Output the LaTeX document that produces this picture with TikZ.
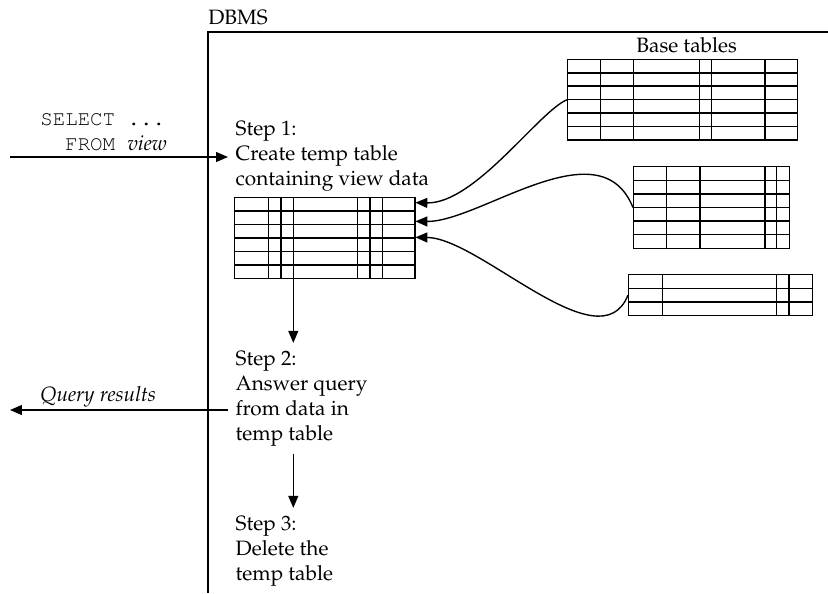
\documentclass[tikz,border=0pt]{standalone}
\usepackage[T1]{fontenc}
\usepackage{mathpazo}
\usepackage{courier}
\usepackage{tikz}
\usetikzlibrary{arrows.meta,positioning,calc,fit}

% name, left, top, right, bottom, rows, column lines
\newcommand{\dbtable}[7]{%
	\draw[tabline] (#2,#3) rectangle (#4,#5);
	\foreach \r in {1,...,#6}
	\draw[tabline] (#2,{#3+\r*(#5-#3)/#6}) -- (#4,{#3+\r*(#5-#3)/#6});
	\foreach \c in {#7}
	\draw[tabline] (\c,#3) -- (\c,#5);
	\node[fit={(#2,#3) (#4,#5)},inner sep=0pt] (#1) {};
}

\begin{document}
\begin{tikzpicture}[x=0.544pt,y=-0.544pt,font=\fontsize{11.3}{13.6}\selectfont,
		tabline/.style={line width=0.85pt},
		arr/.style={-{Triangle[length=6.5pt,width=5.4pt]},line width=0.75pt},
		stepbox/.style={align=left,inner sep=4pt,anchor=base west}]
	
	\useasboundingbox (0,0) rectangle (828,593);
	
	% DBMS frame
	\draw[line width=0.75pt] (828,32) -- (208,32) -- (208,593);
	\node[anchor=base west,inner sep=0pt] (dbms) at (208,25) {DBMS};
	
	% base tables
	\node[anchor=base,inner sep=0pt] (basetitle) at (686.7,53) {Base tables};
	\dbtable{base1}{567.7}{59.3}{797.7}{140}{6}{600.7,633.3,699.3,711.7,765}
	\dbtable{base2}{633.3}{166.7}{789.3}{248.3}{6}{666.7,700,765,776.7}
	\dbtable{base3}{628.3}{274.7}{812.7}{315.7}{3}{662.3,776.7,789}
	
	% temp table
	\dbtable{temp}{234.3}{197.3}{415}{278.3}{6}{268.7,281,293.3,357.7,370,382.3}
	
	% steps (base = last line)
	\node[stepbox] (step1) at (228,185) {Step 1:\\Create temp table\\containing view data};
	\node[stepbox] (step2) at (228,440) {Step 2:\\Answer query\\from data in\\temp table};
	\node[stepbox] (step3) at (228,580) {Step 3:\\Delete the\\temp table};
	
	% query in
	\node[anchor=base west,inner sep=0pt,align=left] (sql) at (40,150)
	{\ttfamily SELECT ...\\\ttfamily\ \ FROM \textrm{\textit{view}}};
	\coordinate (sqlstart) at (10,157);
	\draw[arr] (sqlstart) -- (step1.west |- sqlstart);
	
	% results out
	\node[anchor=base west,inner sep=0pt] (reslabel) at (40,401) {\textit{Query results}};
	\coordinate (resend) at (10,410);
	\draw[arr] (step2.west |- resend) -- (resend);
	
	% base tables into temp table
	\draw[arr] (base1.west) .. controls (540,110) and (475,204) .. ($(temp.north east)+(0,5.7)$);
	\draw[arr] (base2.west) .. controls (600,125) and (480,222) .. ($(temp.north east)+(0,24.4)$);
	\draw[arr] (base3.west) .. controls (600,365) and (480,238) .. ($(temp.north east)+(0,40.4)$);
	
	% step to step
	\coordinate (stem) at (293.3,278.3);
	\draw[arr] (stem) -- (stem |- step2.north);
	\draw[arr] (stem |- step2.south) -- (stem |- step3.north);
\end{tikzpicture}
\end{document}
